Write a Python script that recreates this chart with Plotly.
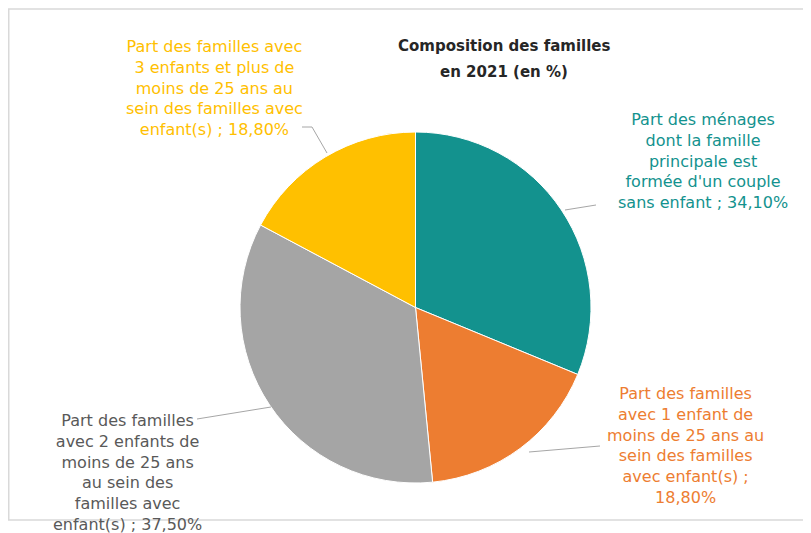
import plotly.graph_objects as go

# ---- data ----
categories = [
    "Part des ménages dont la famille principale est formée d'un couple sans enfant",
    "Part des familles avec 1 enfant de moins de 25 ans au sein des familles avec enfant(s)",
    "Part des familles avec 2 enfants de moins de 25 ans au sein des familles avec enfant(s)",
    "Part des familles avec 3 enfants et plus de moins de 25 ans au sein des familles avec enfant(s)",
]
values = [34.10, 18.80, 37.50, 18.80]
title_lines = ["Composition des familles", "en 2021 (en %)"]

# ---- style / layout ----
W, H = 811, 533
OFF = 8  # page body margin compensation
slice_colors = ["#13928E", "#ED7D31", "#A5A5A5", "#FFC000"]
label_colors = ["#13928E", "#ED7D31", "#595959", "#FFC000"]
# words per line for each label (category + " ; " + value)
line_breaks = [[3, 3, 2, 3, 4], [3, 4, 5, 3, 3, 1], [3, 4, 4, 3, 2, 3], [4, 5, 5, 4, 3]]
label_pos = [(703, 108), (685, 382), (127, 409), (214, 35)]  # center x, top y (px)
leaders = [
    [(565, 210), (596, 205)],
    [(529, 452), (600, 446)],
    [(271, 407), (197, 419)],
    [(327, 153), (312, 127), (302, 127)],
]
FONT = "DejaVu Sans"


def px(x, y):
    return (x - OFF) / W, 1 - (y - OFF) / H


def fmt(v):
    return f"{v:.2f}".replace(".", ",") + "%"


def wrap(text, counts):
    words = text.split()
    lines, i = [], 0
    for c in counts:
        lines.append(" ".join(words[i:i + c]))
        i += c
    return "<br>".join(lines)


x0, y1 = px(240, 132)
x1, y0 = px(591, 483)

fig = go.Figure(go.Pie(
    labels=categories,
    values=values,
    sort=False,
    direction="clockwise",
    rotation=0,
    marker=dict(colors=slice_colors, line=dict(color="white", width=1)),
    textinfo="none",
    textposition="none",
    showlegend=False,
    domain=dict(x=[x0, x1], y=[y0, y1]),
))

annotations = []
for cat, val, brk, col, (cx, ty) in zip(categories, values, line_breaks, label_colors, label_pos):
    txt = wrap(f"{cat} ; {fmt(val)}", brk)
    ax, ay = px(cx, ty)
    annotations.append(dict(
        x=ax, y=ay, xref="paper", yref="paper", xanchor="center", yanchor="top",
        text=txt, showarrow=False, align="center",
        font=dict(family=FONT, size=16, color=col),
    ))

for line, ty in zip(title_lines, [46, 72]):
    ax, ay = px(504, ty)
    annotations.append(dict(
        x=ax, y=ay, xref="paper", yref="paper", xanchor="center", yanchor="middle",
        text=f"<b>{line}</b>", showarrow=False,
        font=dict(family=FONT, size=15, color="#262626"),
    ))

shapes = []
for pts in leaders:
    for (xa, ya), (xb, yb) in zip(pts[:-1], pts[1:]):
        p0, p1 = px(xa, ya), px(xb, yb)
        shapes.append(dict(type="line", xref="paper", yref="paper",
                           x0=p0[0], y0=p0[1], x1=p1[0], y1=p1[1],
                           line=dict(color="#A6A6A6", width=1)))
bx0, by0 = px(8.75, 9)
bx1, by1 = px(830, 520)
shapes.append(dict(type="rect", xref="paper", yref="paper",
                   x0=bx0, y0=by0, x1=bx1, y1=by1,
                   line=dict(color="#D9D9D9", width=1.5), fillcolor="rgba(0,0,0,0)"))

fig.update_layout(
    width=W, height=H,
    margin=dict(l=0, r=0, t=0, b=0),
    paper_bgcolor="white",
    plot_bgcolor="white",
    annotations=annotations,
    shapes=shapes,
)

fig.write_html("out.html")
